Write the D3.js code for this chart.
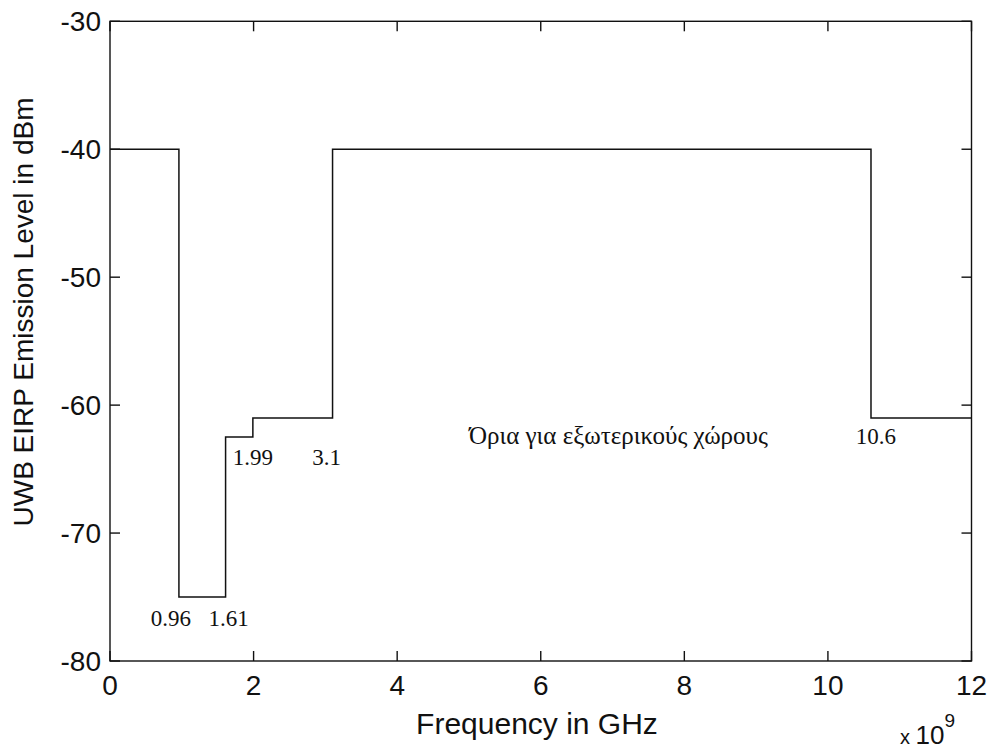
<!DOCTYPE html>
<html>
<head>
<meta charset="utf-8">
<script src="https://cdn.jsdelivr.net/npm/d3@7"></script>
<style>
  html, body { margin: 0; padding: 0; background: #fff; }
  svg { display: block; }
  .tick-label { font-family: "Liberation Sans", Arial, sans-serif; font-size: 28px; fill: #111; }
  .axis-title { font-family: "Liberation Sans", Arial, sans-serif; font-size: 28px; fill: #111; }
  .note { font-family: "Liberation Serif", "Times New Roman", serif; font-size: 23px; fill: #111; }
</style>
</head>
<body>
<script>
// UWB outdoor emission mask (frequency edges in GHz, EIRP limit in dBm)
const bandEdges = [0, 0.96, 1.61, 1.99, 3.1, 10.6, 12];
const bandLevels = [-40, -75, -62.5, -61, -40, -61];

const xTicks = [0, 2, 4, 6, 8, 10, 12];
const yTicks = [-30, -40, -50, -60, -70, -80];

// Frequency labels at the band edges, plus the caption
const edgeLabels = ["0.96", "1.61", "1.99", "3.1", "10.6"];
const edgeLabelFreqs = [0.96, 1.61, 1.99, 3.1, 10.6];
const edgeLabelLevels = [-77.3, -77.3, -64.7, -64.7, -63];
const caption = "Όρια για εξωτερικούς χώρους";
const captionFreq = 5;
const captionLevel = -63;

const W = 988, H = 749;
const plot = { left: 110, right: 971.5, top: 21.3, bottom: 661 };

const svg = d3.select("body").append("svg").attr("width", W).attr("height", H);

const x = d3.scaleLinear().domain([0, 12]).range([plot.left, plot.right]);
const y = d3.scaleLinear().domain([-80, -30]).range([plot.bottom, plot.top]);

// Axis box with inward ticks on all four sides
const tickLen = 10;
const axes = svg.append("g").attr("stroke", "#111").attr("stroke-width", 1.4).attr("fill", "none");
axes.append("rect")
  .attr("x", plot.left).attr("y", plot.top)
  .attr("width", plot.right - plot.left).attr("height", plot.bottom - plot.top);

xTicks.forEach(t => {
  axes.append("line").attr("x1", x(t)).attr("x2", x(t)).attr("y1", plot.bottom).attr("y2", plot.bottom - tickLen);
  axes.append("line").attr("x1", x(t)).attr("x2", x(t)).attr("y1", plot.top).attr("y2", plot.top + tickLen);
});
yTicks.forEach(t => {
  axes.append("line").attr("x1", plot.left).attr("x2", plot.left + tickLen).attr("y1", y(t)).attr("y2", y(t));
  axes.append("line").attr("x1", plot.right).attr("x2", plot.right - tickLen).attr("y1", y(t)).attr("y2", y(t));
});

// Tick labels
svg.append("g").selectAll("text").data(xTicks).join("text")
  .attr("class", "tick-label")
  .attr("x", d => x(d)).attr("y", 695)
  .attr("text-anchor", "middle")
  .text(d => d);

svg.append("g").selectAll("text").data(yTicks).join("text")
  .attr("class", "tick-label")
  .attr("x", 101).attr("y", d => y(d) + 10)
  .attr("text-anchor", "end")
  .text(d => d);

// Axis titles
svg.append("text").attr("class", "axis-title")
  .attr("x", 537).attr("y", 734)
  .attr("text-anchor", "middle")
  .attr("font-size", 30)
  .style("font-size", "30px")
  .text("Frequency in GHz");

svg.append("text").attr("class", "axis-title")
  .attr("transform", "translate(33,312) rotate(-90)")
  .attr("text-anchor", "middle")
  .text("UWB EIRP Emission Level in dBm");

// Exponent marker for the x axis
const expo = svg.append("text").attr("class", "tick-label").attr("x", 900).attr("y", 744);
expo.append("tspan").style("font-size", "20px").text("x ");
expo.append("tspan").style("font-size", "26px").text("10");
expo.append("tspan").style("font-size", "19px").attr("dy", -17).text("9");

// Stepped mask line
const pts = bandLevels.map((v, i) => [bandEdges[i], v]);
pts.push([bandEdges[bandEdges.length - 1], bandLevels[bandLevels.length - 1]]);
const line = d3.line().x(d => x(d[0])).y(d => y(d[1])).curve(d3.curveStepAfter);
svg.append("path")
  .datum(pts)
  .attr("d", line)
  .attr("fill", "none")
  .attr("stroke", "#111")
  .attr("stroke-width", 1.5);

// Band edge annotations
const labelShift = [-8, 3, 0, -6, 5];
svg.append("g").selectAll("text").data(edgeLabels).join("text")
  .attr("class", "note")
  .attr("x", (d, i) => x(edgeLabelFreqs[i]) + labelShift[i])
  .attr("y", (d, i) => y(edgeLabelLevels[i]))
  .attr("text-anchor", "middle")
  .text(d => d);

svg.append("text").attr("class", "note")
  .attr("x", x(captionFreq)).attr("y", y(captionLevel))
  .style("font-size", "25px")
  .text(caption);
</script>
</body>
</html>
